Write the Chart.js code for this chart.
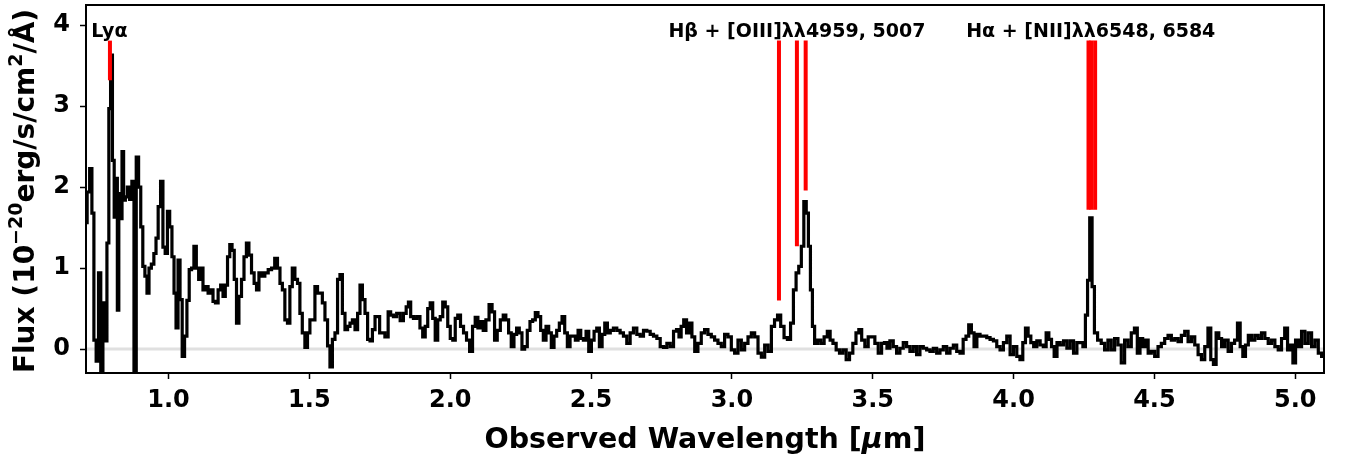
<!DOCTYPE html>
<html>
<head>
<meta charset="utf-8">
<script src="https://cdn.jsdelivr.net/npm/chart.js@4.4.0/dist/chart.umd.min.js"></script>
<style>
  html, body { margin: 0; padding: 0; background: #fff; }
  #wrap { width: 1349px; height: 460px; }
</style>
</head>
<body>
<div id="wrap"><canvas id="spec" width="1349" height="460"></canvas></div>
<script>
// ─── SPECTRUM ───
const wave = [
  0.7066, 0.7155, 0.7244, 0.7315, 0.7386, 0.7475, 0.7553, 0.7635, 0.7706, 0.7777,
  0.7849, 0.7913, 0.7973, 0.8044, 0.8098, 0.8162, 0.8204, 0.8265, 0.8322, 0.8375,
  0.8435, 0.8499, 0.8578, 0.8659, 0.8738, 0.8809, 0.8898, 0.8976, 0.9051, 0.9122,
  0.9200, 0.9271, 0.9342, 0.9438, 0.9520, 0.9591, 0.9673, 0.9762, 0.9840, 0.9922,
  1.0000, 1.0082, 1.0160, 1.0231, 1.0302, 1.0373, 1.0444, 1.0526, 1.0612, 1.0693,
  1.0775, 1.0860, 1.0942, 1.1031, 1.1109, 1.1184, 1.1262, 1.1358, 1.1451, 1.1540,
  1.1618, 1.1714, 1.1806, 1.1895, 1.1974, 1.2055, 1.2134, 1.2215, 1.2294, 1.2372,
  1.2454, 1.2543, 1.2638, 1.2720, 1.2809, 1.2898, 1.2994, 1.3083, 1.3165, 1.3254,
  1.3360, 1.3478, 1.3599, 1.3716, 1.3823, 1.3912, 1.4000, 1.4082, 1.4178, 1.4267,
  1.4349, 1.4438, 1.4534, 1.4623, 1.4704, 1.4793, 1.4889, 1.4978, 1.5060, 1.5149,
  1.5245, 1.5334, 1.5416, 1.5505, 1.5601, 1.5690, 1.5772, 1.5861, 1.5956, 1.6045,
  1.6127, 1.6216, 1.6312, 1.6401, 1.6483, 1.6572, 1.6668, 1.6757, 1.6838, 1.6927,
  1.7023, 1.7112, 1.7194, 1.7283, 1.7379, 1.7610, 1.7752, 1.7841, 1.7930, 1.8037,
  1.8161, 1.8286, 1.8392, 1.8481, 1.8552, 1.8641, 1.8748, 1.8872, 1.8979, 1.9068,
  1.9157, 1.9246, 1.9334, 1.9423, 1.9512, 1.9601, 1.9690, 1.9779, 1.9868, 1.9957,
  2.0046, 2.0135, 2.0223, 2.0312, 2.0419, 2.0526, 2.0632, 2.0746, 2.0839, 2.0935,
  2.1031, 2.1124, 2.1219, 2.1315, 2.1443, 2.1528, 2.1621, 2.1717, 2.1841, 2.1923,
  2.2026, 2.2119, 2.2215, 2.2311, 2.2404, 2.2499, 2.2595, 2.2688, 2.2784, 2.2880,
  2.2973, 2.3068, 2.3164, 2.3257, 2.3353, 2.3449, 2.3542, 2.3637, 2.3733, 2.3826,
  2.3922, 2.4018, 2.4111, 2.4206, 2.4302, 2.4395, 2.4491, 2.4587, 2.4680, 2.4775,
  2.4871, 2.4964, 2.5060, 2.5155, 2.5248, 2.5344, 2.5440, 2.5533, 2.5629, 2.5735,
  2.5853, 2.5973, 2.6091, 2.6208, 2.6329, 2.6446, 2.6564, 2.6685, 2.6802, 2.6920,
  2.7040, 2.7158, 2.7275, 2.7396, 2.7513, 2.7631, 2.7752, 2.7869, 2.7987, 2.8082,
  2.8160, 2.8236, 2.8343, 2.8438, 2.8534, 2.8627, 2.8734, 2.8854, 2.8971, 2.9089,
  2.9210, 2.9327, 2.9445, 2.9565, 2.9682, 2.9800, 2.9921, 3.0038, 3.0156, 3.0276,
  3.0394, 3.0511, 3.0632, 3.0749, 3.0867, 3.0987, 3.1105, 3.1222, 3.1343, 3.1460,
  3.1567, 3.1674, 3.1791, 3.1912, 3.2029, 3.2136, 3.2232, 3.2325, 3.2421, 3.2509,
  3.2598, 3.2680, 3.2752, 3.2823, 3.2894, 3.2979, 3.3096, 3.3214, 3.3334, 3.3441,
  3.3534, 3.3641, 3.3761, 3.3879, 3.3996, 3.4117, 3.4234, 3.4352, 3.4458, 3.4554,
  3.4661, 3.4778, 3.4899, 3.5016, 3.5134, 3.5255, 3.5372, 3.5460, 3.5550, 3.5668,
  3.5788, 3.5905, 3.6023, 3.6144, 3.6261, 3.6379, 3.6499, 3.6617, 3.6734, 3.6855,
  3.6972, 3.7090, 3.7210, 3.7328, 3.7445, 3.7566, 3.7683, 3.7801, 3.7922, 3.8039,
  3.8157, 3.8263, 3.8359, 3.8455, 3.8548, 3.8644, 3.8750, 3.8868, 3.8989, 3.9106,
  3.9224, 3.9344, 3.9461, 3.9579, 3.9700, 3.9817, 3.9935, 4.0055, 4.0173, 4.0279,
  4.0375, 4.0468, 4.0564, 4.0660, 4.0766, 4.0884, 4.1001, 4.1108, 4.1204, 4.1300,
  4.1393, 4.1488, 4.1595, 4.1713, 4.1833, 4.1951, 4.2068, 4.2189, 4.2306, 4.2413,
  4.2509, 4.2591, 4.2662, 4.2744, 4.2829, 4.2911, 4.3053, 4.3170, 4.3291, 4.3409,
  4.3526, 4.3647, 4.3764, 4.3882, 4.4002, 4.4120, 4.4237, 4.4344, 4.4440, 4.4536,
  4.4629, 4.4724, 4.4831, 4.4948, 4.5069, 4.5187, 4.5304, 4.5425, 4.5542, 4.5660,
  4.5780, 4.5898, 4.6015, 4.6136, 4.6253, 4.6371, 4.6492, 4.6609, 4.6726, 4.6847,
  4.6954, 4.7047, 4.7142, 4.7238, 4.7331, 4.7438, 4.7558, 4.7676, 4.7793, 4.7900,
  4.7996, 4.8092, 4.8185, 4.8280, 4.8387, 4.8504, 4.8625, 4.8743, 4.8860, 4.8981,
  4.9098, 4.9216, 4.9336, 4.9454, 4.9571, 4.9678, 4.9774, 4.9870, 4.9963, 5.0058,
  5.0165, 5.0282, 5.0403, 5.0521, 5.0638, 5.0759, 5.0876, 5.0994
];
const flux = [
  1.56, 1.94, 2.23, 1.68, 0.11, -0.15, 0.94, -0.35, 0.57, 0.10,
  1.31, 2.97, 3.63, 2.33, 1.63, 2.11, 0.48, 1.92, 1.61, 2.44,
  1.84, 1.88, 2.00, 1.85, 2.07, -0.35, 2.37, 2.00, 1.51, 1.02,
  0.90, 0.69, 1.00, 1.05, 1.18, 1.37, 1.76, 2.07, 1.26, 1.18,
  1.70, 1.51, 1.14, 0.69, 0.26, 1.10, 0.61, -0.09, 0.16, 0.60,
  0.98, 1.00, 1.27, 1.00, 0.86, 1.00, 0.73, 0.77, 0.69, 0.73,
  0.59, 0.57, 0.73, 0.79, 0.65, 0.79, 1.14, 1.29, 1.22, 0.86,
  0.32, 0.65, 0.86, 1.14, 1.31, 1.16, 0.94, 0.81, 0.73, 0.94,
  0.90, 0.94, 0.98, 1.00, 1.12, 1.00, 0.81, 0.73, 0.36, 0.32,
  0.77, 1.00, 0.86, 0.81, 0.44, 0.20, 0.02, 0.20, 0.36, 0.36,
  0.77, 0.69, 0.69, 0.57, 0.36, 0.04, -0.22, 0.12, 0.20, 0.86,
  0.92, 0.44, 0.24, 0.28, 0.32, 0.36, 0.24, 0.44, 0.79, 0.61,
  0.44, 0.12, 0.10, 0.24, 0.40, 0.20, 0.15, 0.46, 0.42, 0.40,
  0.44, 0.35, 0.44, 0.52, 0.58, 0.40, 0.38, 0.40, 0.26, 0.15,
  0.28, 0.50, 0.57, 0.38, 0.11, 0.36, 0.40, 0.58, 0.52, 0.28,
  0.13, 0.11, 0.38, 0.42, 0.28, 0.20, 0.11, -0.03, 0.28, 0.39,
  0.26, 0.34, 0.23, 0.36, 0.55, 0.46, 0.11, 0.23, 0.36, 0.42,
  0.36, 0.20, 0.03, 0.18, 0.26, 0.20, 0.00, 0.03, 0.23, 0.34,
  0.36, 0.45, 0.40, 0.23, 0.11, 0.28, 0.20, 0.02, 0.16, 0.23,
  0.32, 0.40, 0.20, 0.03, 0.16, 0.16, 0.11, 0.23, 0.13, 0.11,
  0.22, -0.03, 0.11, 0.22, 0.26, 0.03, 0.18, 0.32, 0.20, 0.23,
  0.26, 0.23, 0.20, 0.16, 0.07, 0.20, 0.26, 0.18, 0.16, 0.23,
  0.22, 0.18, 0.16, 0.13, 0.03, 0.02, 0.07, 0.03, 0.22, 0.24,
  0.15, 0.28, 0.36, 0.20, 0.32, 0.15, -0.03, 0.07, 0.20, 0.24,
  0.18, 0.15, 0.11, 0.07, 0.03, 0.18, 0.15, -0.01, -0.05, 0.11,
  -0.01, 0.07, 0.15, 0.20, 0.15, -0.05, -0.10, 0.05, -0.03, 0.28,
  0.36, 0.42, 0.28, 0.14, 0.12, 0.32, 0.73, 0.94, 1.02, 1.27,
  1.82, 1.68, 1.27, 0.73, 0.28, 0.07, 0.11, 0.07, 0.15, 0.22,
  0.11, 0.07, -0.01, -0.05, -0.01, -0.13, -0.05, 0.07, 0.20, 0.24,
  0.11, 0.03, 0.15, 0.15, 0.07, -0.05, 0.07, 0.08, 0.01, 0.10,
  0.03, -0.05, 0.01, 0.08, 0.03, -0.03, 0.03, -0.07, 0.03, 0.01,
  -0.01, -0.03, 0.01, -0.05, -0.01, 0.03, -0.05, 0.01, 0.05, -0.03,
  -0.05, 0.12, 0.16, 0.30, 0.20, 0.03, 0.18, 0.16, 0.16, 0.14,
  0.12, 0.10, 0.03, -0.01, 0.08, 0.16, -0.07, 0.03, -0.09, -0.13,
  0.08, 0.26, 0.16, 0.08, 0.03, 0.10, 0.05, 0.03, 0.20, 0.12,
  0.03, -0.09, 0.08, 0.05, 0.10, 0.01, 0.10, -0.05, 0.08, 0.08,
  0.03, 0.42, 0.85, 1.62, 0.77, 0.20, 0.11, 0.07, -0.01, 0.11,
  -0.01, 0.13, 0.05, -0.17, 0.11, 0.03, 0.20, 0.26, -0.05, 0.13,
  0.03, 0.11, -0.05, -0.03, -0.09, 0.03, 0.07, 0.13, 0.17, 0.11,
  0.13, 0.09, 0.17, 0.22, 0.09, 0.15, 0.05, -0.07, -0.13, 0.03,
  0.26, -0.13, -0.19, 0.20, 0.13, 0.03, 0.11, -0.03, 0.07, 0.11,
  0.32, 0.03, -0.09, 0.05, 0.17, 0.11, 0.17, 0.13, 0.20, 0.13,
  0.07, 0.11, 0.03, -0.01, 0.13, 0.26, -0.01, 0.05, -0.17, 0.11,
  0.03, 0.22, 0.07, 0.20, 0.03, 0.11, -0.05, -0.09
];

// ─── AXES ───
const xRange = [0.707, 5.102];
const yRange = [-0.296, 4.25];
const xTicks = [1.0, 1.5, 2.0, 2.5, 3.0, 3.5, 4.0, 4.5, 5.0];
const yTicks = [0, 1, 2, 3, 4];

// ─── EMISSION LINE MARKERS ───
const lineWaves   = [0.7920, 3.1671, 3.2308, 3.2619, 4.2660, 4.2757, 4.2895];
const lineBottoms = [3.32, 0.60, 1.27, 1.96, 1.72, 1.72, 1.72];
const lineTop = 3.81;
const labelTexts = ['Lyα', 'Hβ + [OIII]λλ4959, 5007', 'Hα + [NII]λλ6548, 6584'];
const labelWaves = [0.790, 3.231, 4.274];
const labelY = 3.86;

const FONT = '"DejaVu Sans", sans-serif';

const specPoints = wave.map((w, i) => ({ x: w, y: flux[i] }));

const markerSets = lineWaves.map((w, i) => ({
    data: [{ x: w, y: lineBottoms[i] }, { x: w, y: lineTop }],
    borderColor: '#ff0000',
    borderWidth: 4,
    borderCapStyle: 'butt',
    pointRadius: 0,
    order: 0
}));

// frame, line labels and axis titles
const decor = {
    id: 'decor',
    afterDraw(chart) {
        const { ctx, chartArea: a, scales: { x, y } } = chart;
        ctx.save();
        ctx.strokeStyle = '#000';
        ctx.lineWidth = 2;
        ctx.strokeRect(a.left, a.top, a.right - a.left, a.bottom - a.top);

        ctx.fillStyle = '#000';
        ctx.font = 'bold 19px ' + FONT;
        ctx.textAlign = 'center';
        ctx.textBaseline = 'alphabetic';
        labelTexts.forEach((t, i) => {
            ctx.fillText(t, x.getPixelForValue(labelWaves[i]), y.getPixelForValue(labelY));
        });

        // x title
        const xParts = [['Observed Wavelength [', 'bold 28.5px '], ['μ', 'italic bold 28.5px '], ['m]', 'bold 28.5px ']];
        drawParts(ctx, xParts, (a.left + a.right) / 2, 448);

        // y title (rotated)
        ctx.translate(34, (a.top + a.bottom) / 2 + 2);
        ctx.rotate(-Math.PI / 2);
        const yParts = [['Flux (10', 'bold 28px '], ['\u221220', 'bold 19px ', -12], ['erg/s/cm', 'bold 28px '],
                        ['2', 'bold 19px ', -12], ['/Å)', 'bold 28px ']];
        drawParts(ctx, yParts, 0, 0);
        ctx.restore();
    }
};

function drawParts(ctx, parts, cx, baseY) {
    ctx.textAlign = 'left';
    ctx.textBaseline = 'alphabetic';
    let total = 0;
    parts.forEach(p => { ctx.font = p[1] + FONT; total += ctx.measureText(p[0]).width; });
    let px = cx - total / 2;
    parts.forEach(p => {
        ctx.font = p[1] + FONT;
        ctx.fillText(p[0], px, baseY + (p[2] || 0));
        px += ctx.measureText(p[0]).width;
    });
}

new Chart(document.getElementById('spec'), {
    type: 'line',
    data: {
        datasets: [
            ...markerSets,
            {
                data: specPoints,
                borderColor: '#000',
                borderWidth: 3.2,
                stepped: 'middle',
                pointRadius: 0,
                order: 1
            },
            {
                data: [{ x: xRange[0], y: 0 }, { x: xRange[1], y: 0 }],
                borderColor: '#e0e0e0',
                borderWidth: 3,
                pointRadius: 0,
                order: 2
            }
        ]
    },
    options: {
        responsive: false,
        animation: false,
        devicePixelRatio: 1,
        layout: { padding: { top: 5, right: 25, left: 0, bottom: 0 } },
        plugins: { legend: { display: false }, tooltip: { enabled: false } },
        scales: {
            x: {
                type: 'linear',
                min: xRange[0],
                max: xRange[1],
                afterBuildTicks: s => { s.ticks = xTicks.map(v => ({ value: v })); },
                afterFit: s => { s.height = 87; s.paddingLeft = 0; s.paddingRight = 0; },
                grid: { drawOnChartArea: false, tickLength: 6, tickWidth: 1.5, tickColor: '#000' },
                border: { display: false },
                ticks: {
                    color: '#000',
                    font: { family: FONT, size: 24, weight: 'bold' },
                    padding: 7,
                    maxRotation: 0,
                    autoSkip: false,
                    callback: v => v.toFixed(1)
                }
            },
            y: {
                type: 'linear',
                min: yRange[0],
                max: yRange[1],
                afterBuildTicks: s => { s.ticks = yTicks.map(v => ({ value: v })); },
                afterFit: s => { s.width = 86; s.paddingTop = 0; s.paddingBottom = 0; },
                grid: { drawOnChartArea: false, tickLength: 6, tickWidth: 1.5, tickColor: '#000' },
                border: { display: false },
                ticks: {
                    color: '#000',
                    font: { family: FONT, size: 24, weight: 'bold' },
                    padding: 10,
                    callback: v => String(v)
                }
            }
        }
    },
    plugins: [decor]
});
</script>
</body>
</html>
